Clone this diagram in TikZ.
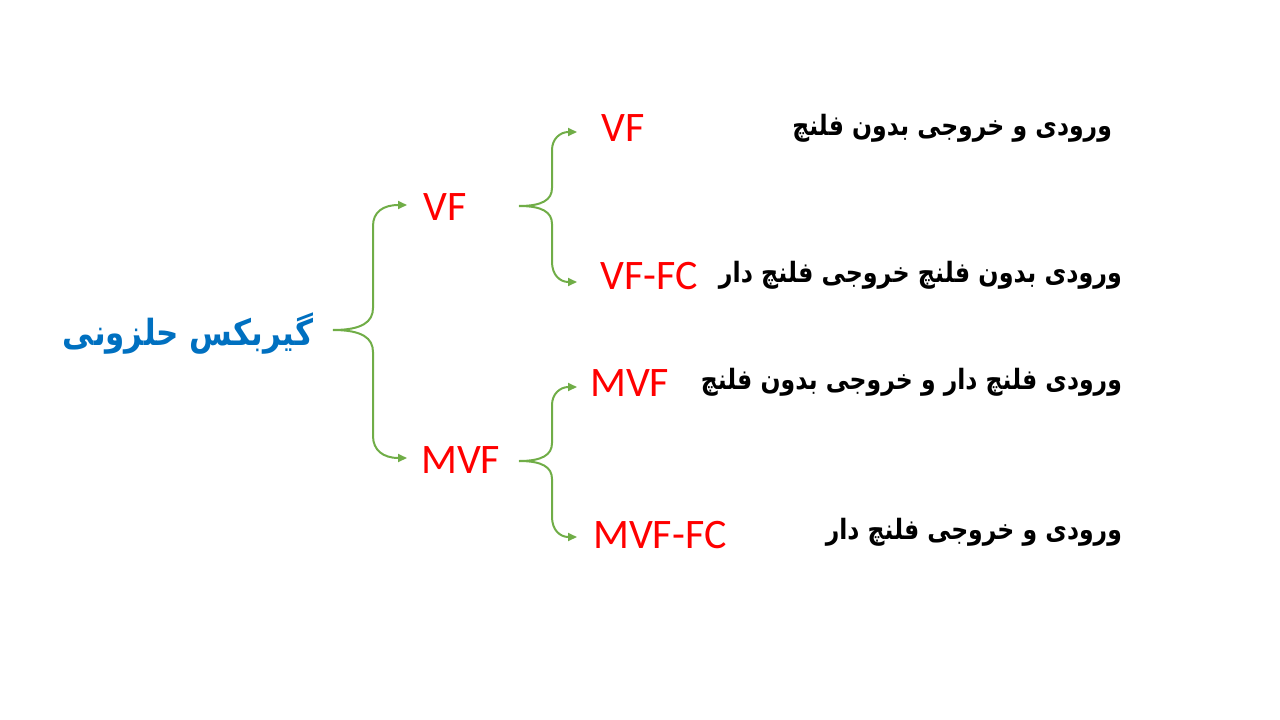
\documentclass[tikz,border=0pt]{standalone}
\usepackage{fontspec}
\setmainfont{Carlito}
\newfontfamily\fa[Script=Arabic]{DejaVu Sans}
\TeXXeTstate=1
\usetikzlibrary{arrows.meta}
\definecolor{brgreen}{HTML}{70AD47}
\definecolor{ttlblue}{HTML}{0070C0}
\definecolor{lblred}{HTML}{FF0000}
\begin{document}
\begin{tikzpicture}[x=1pt,y=-1pt,
  brace/.style={draw=brgreen,line width=2pt,-{Triangle[length=9pt,width=8pt]}},
  code/.style={text=lblred,font=\fontsize{42}{48}\selectfont,anchor=west,inner sep=0pt},
  desc/.style={text=black,font=\fa\bfseries\fontsize{28}{32}\selectfont,anchor=east,inner sep=0pt},
  title/.style={text=ttlblue,font=\fa\bfseries\fontsize{36}{40}\selectfont,inner sep=0pt}]
\useasboundingbox (0,0) rectangle (1280,720);
% title
\node[title] (ttl) at (188,334) {\scalebox{0.86}[1]{\beginR گیربکس حلزونی\endR}};
% level 1
\node[code] (vf) at (423,207) {VF};
\node[code] (mvf) at (421,460) {MVF};
% level 2
\node[code] (vf1) at (601,128) {VF};
\node[code] (vf2) at (600,276) {VF-FC};
\node[code] (mvf1) at (590,383) {MVF};
\node[code] (mvf2) at (593,535) {MVF-FC};
% descriptions
\node[desc] (d1) at (1112,128) {\scalebox{0.84}[1]{\beginR ورودی و خروجی بدون فلنچ\endR}};
\node[desc] (d2) at (1122,275) {\scalebox{0.85}[1]{\beginR ورودی بدون فلنچ خروجی فلنچ دار\endR}};
\node[desc] (d3) at (1122,382) {\scalebox{0.84}[1]{\beginR ورودی فلنچ دار و خروجی بدون فلنچ\endR}};
\node[desc] (d4) at (1122,532) {\scalebox{0.84}[1]{\beginR ورودی و خروجی فلنچ دار\endR}};
% brace coordinates
\coordinate (s0) at (333,330);
\coordinate (t0a) at (407,205);
\coordinate (t0b) at (407,458);
\coordinate (s1) at (519,206);
\coordinate (t1a) at (577,132);
\coordinate (t1b) at (577,282);
\coordinate (s2) at (519,461);
\coordinate (t2a) at (577,387);
\coordinate (t2b) at (577,537);
% brace 1
\draw[brace] (s0) .. controls (362,330) and (373,322) .. (373,308) -- (373,226) .. controls (373,212) and (383,205) .. (t0a);
\draw[brace] (s0) .. controls (362,330) and (373,338) .. (373,352) -- (373,436) .. controls (373,450) and (383,458) .. (t0b);
% brace 2
\draw[brace] (s1) .. controls (542,206) and (552,200) .. (552,188) -- (552,150) .. controls (552,139) and (560,132) .. (t1a);
\draw[brace] (s1) .. controls (542,206) and (552,212) .. (552,224) -- (552,262) .. controls (552,275) and (560,282) .. (t1b);
% brace 3
\draw[brace] (s2) .. controls (542,461) and (552,455) .. (552,443) -- (552,405) .. controls (552,394) and (560,387) .. (t2a);
\draw[brace] (s2) .. controls (542,461) and (552,467) .. (552,479) -- (552,517) .. controls (552,530) and (560,537) .. (t2b);
\end{tikzpicture}
\end{document}
